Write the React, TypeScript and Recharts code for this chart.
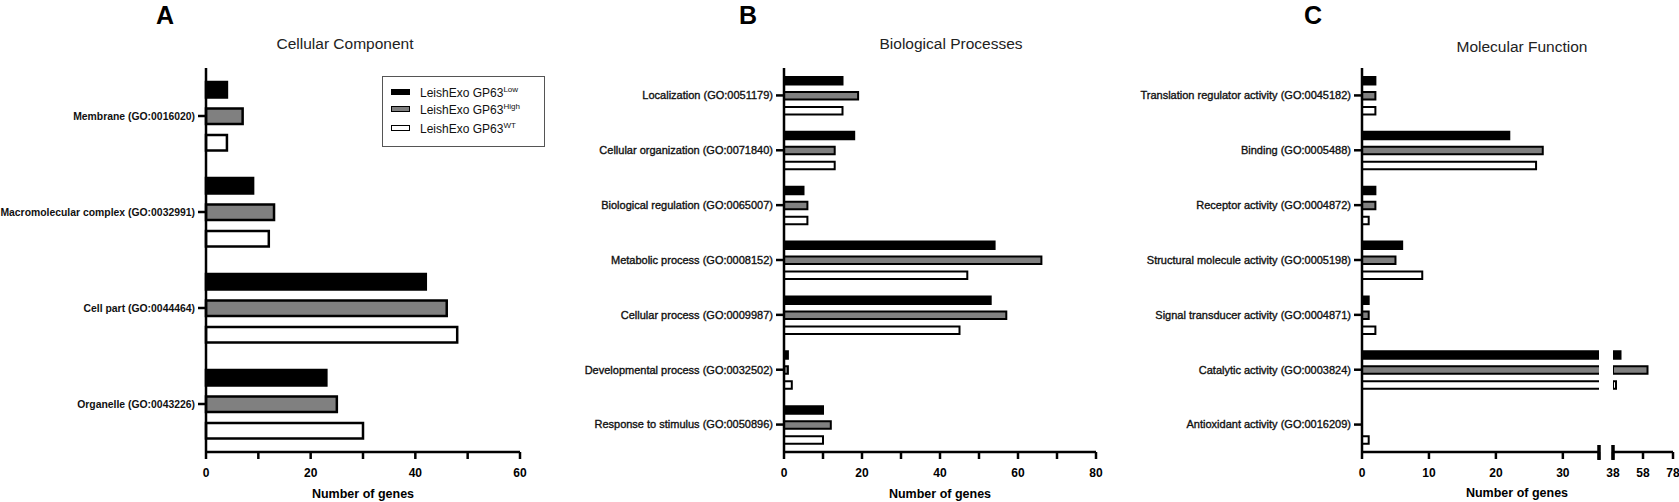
import React from 'react';
import { BarChart, Bar, XAxis, YAxis, Legend } from 'recharts';

const FONT = '"Liberation Sans", Arial, Helvetica, sans-serif';

// ---------- data ----------
const ccCategories = [
  'Membrane (GO:0016020)',
  'Macromolecular complex (GO:0032991)',
  'Cell part (GO:0044464)',
  'Organelle (GO:0043226)',
];
const ccLow = [4, 9, 42, 23];
const ccHigh = [7, 13, 46, 25];
const ccWT = [4, 12, 48, 30];

const bpCategories = [
  'Localization (GO:0051179)',
  'Cellular organization (GO:0071840)',
  'Biological regulation (GO:0065007)',
  'Metabolic process (GO:0008152)',
  'Cellular process (GO:0009987)',
  'Developmental process (GO:0032502)',
  'Response to stimulus (GO:0050896)',
];
const bpLow = [15, 18, 5, 54, 53, 1, 10];
const bpHigh = [19, 13, 6, 66, 57, 1, 12];
const bpWT = [15, 13, 6, 47, 45, 2, 10];

const mfCategories = [
  'Translation regulator activity (GO:0045182)',
  'Binding (GO:0005488)',
  'Receptor activity (GO:0004872)',
  'Structural molecule activity (GO:0005198)',
  'Signal transducer activity (GO:0004871)',
  'Catalytic activity (GO:0003824)',
  'Antioxidant activity (GO:0016209)',
];
const mfLow = [2, 22, 2, 6, 1, 43, 0];
const mfHigh = [2, 27, 2, 5, 1, 61, 0];
const mfWT = [2, 26, 1, 9, 2, 40, 1];

const ccTicks = [0, 10, 20, 30, 40, 50, 60];
const ccTickLabels = [0, 20, 40, 60];
const bpTicks = [0, 10, 20, 30, 40, 50, 60, 70, 80];
const bpTickLabels = [0, 20, 40, 60, 80];
const mfLowSegment = [0, 35.4];
const mfLowTicks = [0, 10, 20, 30, 35.4];
const mfLowTickLabels = [0, 10, 20, 30];
const mfHighSegment = [38, 78];
const mfHighTicks = [38, 58, 78];
const mfHighTickLabels = [38, 58, 78];

const seriesLabel = 'LeishExo GP63';
const seriesSup = ['Low', 'High', 'WT'];

// ---------- tables ----------
const mkRows = (cats: string[], a: number[], b: number[], c: number[]) =>
  cats.map((name, i) => ({ name, low: a[i], high: b[i], wt: c[i] }));

const ccData = mkRows(ccCategories, ccLow, ccHigh, ccWT);
const bpData = mkRows(bpCategories, bpLow, bpHigh, bpWT);
const mfData = mkRows(mfCategories, mfLow, mfHigh, mfWT);
const mfDataHigh = mfData.map((r) => ({
  name: r.name,
  low: r.low >= mfHighSegment[0] ? r.low : null,
  high: r.high >= mfHighSegment[0] ? r.high : null,
  wt: r.wt >= mfHighSegment[0] ? r.wt : null,
}));

// ---------- styles ----------
const AXIS_Y = 452;
const CH = 502;
const MARGIN_TOP = 68;
const XAXIS_H = CH - AXIS_Y;
const LINE = { stroke: '#000', strokeWidth: 2.5 };

const seriesStyle = [
  { key: 'low', fill: '#000000' },
  { key: 'high', fill: '#808080' },
  { key: 'wt', fill: '#ffffff' },
];

const makeXTick = (labels: number[], caps: number[]) => (props: any) => {
  const { x, y, payload } = props;
  const v = payload.value;
  return (
    <g>
      {caps.includes(v) && (
        <rect x={x - 1.75} y={AXIS_Y - 7} width={3.5} height={15} fill="#000" />
      )}
      {labels.includes(v) && (
        <text
          x={x}
          y={y}
          dy="0.71em"
          textAnchor="middle"
          fontSize={12}
          fontWeight="bold"
          fontFamily={FONT}
          fill="#000"
        >
          {v}
        </text>
      )}
    </g>
  );
};

const makeYTick = (bold: boolean) => (props: any) => {
  const { x, y, payload } = props;
  return (
    <text
      x={x}
      y={y}
      dy="0.355em"
      textAnchor="end"
      fontSize={bold ? 10.4 : 11}
      fontWeight={bold ? 'bold' : 'normal'}
      fontFamily={FONT}
      fill="#111"
      stroke={bold ? 'none' : '#111'}
      strokeWidth={bold ? 0 : 0.35}
    >
      {payload.value}
    </text>
  );
};

const axisLabel = {
  value: 'Number of genes',
  position: 'insideBottom' as const,
  offset: 4,
  fontSize: 12.5,
  fontWeight: 'bold',
  fill: '#000',
  fontFamily: FONT,
};

const renderBars = (strokeWidth: number) =>
  seriesStyle.map((s) => (
    <Bar
      key={s.key}
      dataKey={s.key}
      fill={s.fill}
      stroke="#000"
      strokeWidth={strokeWidth}
      isAnimationActive={false}
    />
  ));

const LegendBox = () => (
  <div
    style={{
      position: 'relative',
      width: 161,
      height: 69,
      border: '1px solid #555',
      background: '#fff',
      fontFamily: FONT,
      fontSize: 12,
      color: '#111',
    }}
  >
    {seriesStyle.map((s, i) => {
      const cy = [16, 33, 52][i];
      return (
        <React.Fragment key={s.key}>
          <div
            style={{
              position: 'absolute',
              left: 8,
              top: cy - 4,
              width: 17,
              height: 4,
              background: s.fill,
              border: '1.5px solid #000',
            }}
          />
          <div
            style={{
              position: 'absolute',
              left: 37,
              top: cy - 8,
              height: 16,
              lineHeight: '16px',
              whiteSpace: 'nowrap',
            }}
          >
            {seriesLabel}
            <span style={{ fontSize: 8, position: 'relative', top: -5 }}>{seriesSup[i]}</span>
          </div>
        </React.Fragment>
      );
    })}
  </div>
);

const Overlay = () => (
  <svg
    width={1679}
    height={502}
    style={{ position: 'absolute', left: 0, top: 0 }}
    fontFamily={FONT}
  >
    <text x={165} y={24} fontSize={25} fontWeight="bold" textAnchor="middle" fill="#000">A</text>
    <text x={748} y={24} fontSize={25} fontWeight="bold" textAnchor="middle" fill="#000">B</text>
    <text x={1313} y={24} fontSize={25} fontWeight="bold" textAnchor="middle" fill="#000">C</text>
    <text x={345} y={49} fontSize={15.5} textAnchor="middle" fill="#222">Cellular Component</text>
    <text x={951} y={49} fontSize={15.5} textAnchor="middle" fill="#222">Biological Processes</text>
    <text x={1522} y={52} fontSize={15.5} textAnchor="middle" fill="#222">Molecular Function</text>
    <text x={1517} y={497} fontSize={12.5} fontWeight="bold" textAnchor="middle" fill="#000">Number of genes</text>
  </svg>
);

export default function App() {
  return (
    <div
      style={{
        position: 'absolute',
        left: 0,
        top: 0,
        width: 1679,
        height: 502,
        background: '#fff',
        overflow: 'hidden',
      }}
    >
      <Overlay />

      {/* Panel A */}
      <div style={{ position: 'absolute', left: 0, top: 0 }}>
        <BarChart
          layout="vertical"
          width={560}
          height={CH}
          data={ccData}
          margin={{ top: MARGIN_TOP, right: 40, bottom: 0, left: 0 }}
          barSize={15.5}
          barGap={11}
        >
          <XAxis
            type="number"
            domain={[0, 60]}
            ticks={ccTicks}
            interval={0}
            tick={makeXTick(ccTickLabels, [])}
            tickLine={LINE}
            axisLine={LINE}
            tickSize={7}
            tickMargin={9}
            height={XAXIS_H}
            label={axisLabel}
          />
          <YAxis
            type="category"
            dataKey="name"
            width={206}
            interval={0}
            tick={makeYTick(true)}
            tickLine={LINE}
            axisLine={LINE}
            tickSize={8}
            tickMargin={3}
          />
          <Legend
            layout="horizontal"
            align="center"
            verticalAlign="middle"
            content={() => <LegendBox />}
            wrapperStyle={{ left: 382, top: 76, width: 163, height: 71 }}
          />
          {renderBars(2.5)}
        </BarChart>
      </div>

      {/* Panel B */}
      <div style={{ position: 'absolute', left: 560, top: 0 }}>
        <BarChart
          layout="vertical"
          width={560}
          height={CH}
          data={bpData}
          margin={{ top: MARGIN_TOP, right: 24, bottom: 0, left: 0 }}
          barSize={7.5}
          barGap={7.5}
        >
          <XAxis
            type="number"
            domain={[0, 80]}
            ticks={bpTicks}
            interval={0}
            tick={makeXTick(bpTickLabels, [])}
            tickLine={LINE}
            axisLine={LINE}
            tickSize={7}
            tickMargin={9}
            height={XAXIS_H}
            label={axisLabel}
          />
          <YAxis
            type="category"
            dataKey="name"
            width={224}
            interval={0}
            tick={makeYTick(false)}
            tickLine={LINE}
            axisLine={LINE}
            tickSize={8}
            tickMargin={3}
          />
          {renderBars(2)}
        </BarChart>
      </div>

      {/* Panel C, first segment */}
      <div style={{ position: 'absolute', left: 1120, top: 0 }}>
        <BarChart
          layout="vertical"
          width={487}
          height={CH}
          data={mfData}
          margin={{ top: MARGIN_TOP, right: 8, bottom: 0, left: 0 }}
          barSize={7.5}
          barGap={7.5}
        >
          <XAxis
            type="number"
            domain={mfLowSegment}
            allowDataOverflow
            ticks={mfLowTicks}
            interval={0}
            tick={makeXTick(mfLowTickLabels, [mfLowSegment[1]])}
            tickLine={LINE}
            axisLine={LINE}
            tickSize={7}
            tickMargin={9}
            height={XAXIS_H}
          />
          <YAxis
            type="category"
            dataKey="name"
            width={242}
            interval={0}
            tick={makeYTick(false)}
            tickLine={LINE}
            axisLine={LINE}
            tickSize={8}
            tickMargin={3}
          />
          {renderBars(2)}
        </BarChart>
      </div>

      {/* Panel C, second segment (axis break) */}
      <div style={{ position: 'absolute', left: 1605, top: 0 }}>
        <BarChart
          layout="vertical"
          width={74}
          height={CH}
          data={mfDataHigh}
          margin={{ top: MARGIN_TOP, right: 6, bottom: 0, left: 8 }}
          barSize={7.5}
          barGap={7.5}
        >
          <XAxis
            type="number"
            domain={mfHighSegment}
            allowDataOverflow
            ticks={mfHighTicks}
            interval={0}
            tick={makeXTick(mfHighTickLabels, [mfHighSegment[0]])}
            tickLine={LINE}
            axisLine={LINE}
            tickSize={7}
            tickMargin={9}
            height={XAXIS_H}
          />
          <YAxis type="category" dataKey="name" hide />
          {renderBars(2)}
        </BarChart>
      </div>
    </div>
  );
}
